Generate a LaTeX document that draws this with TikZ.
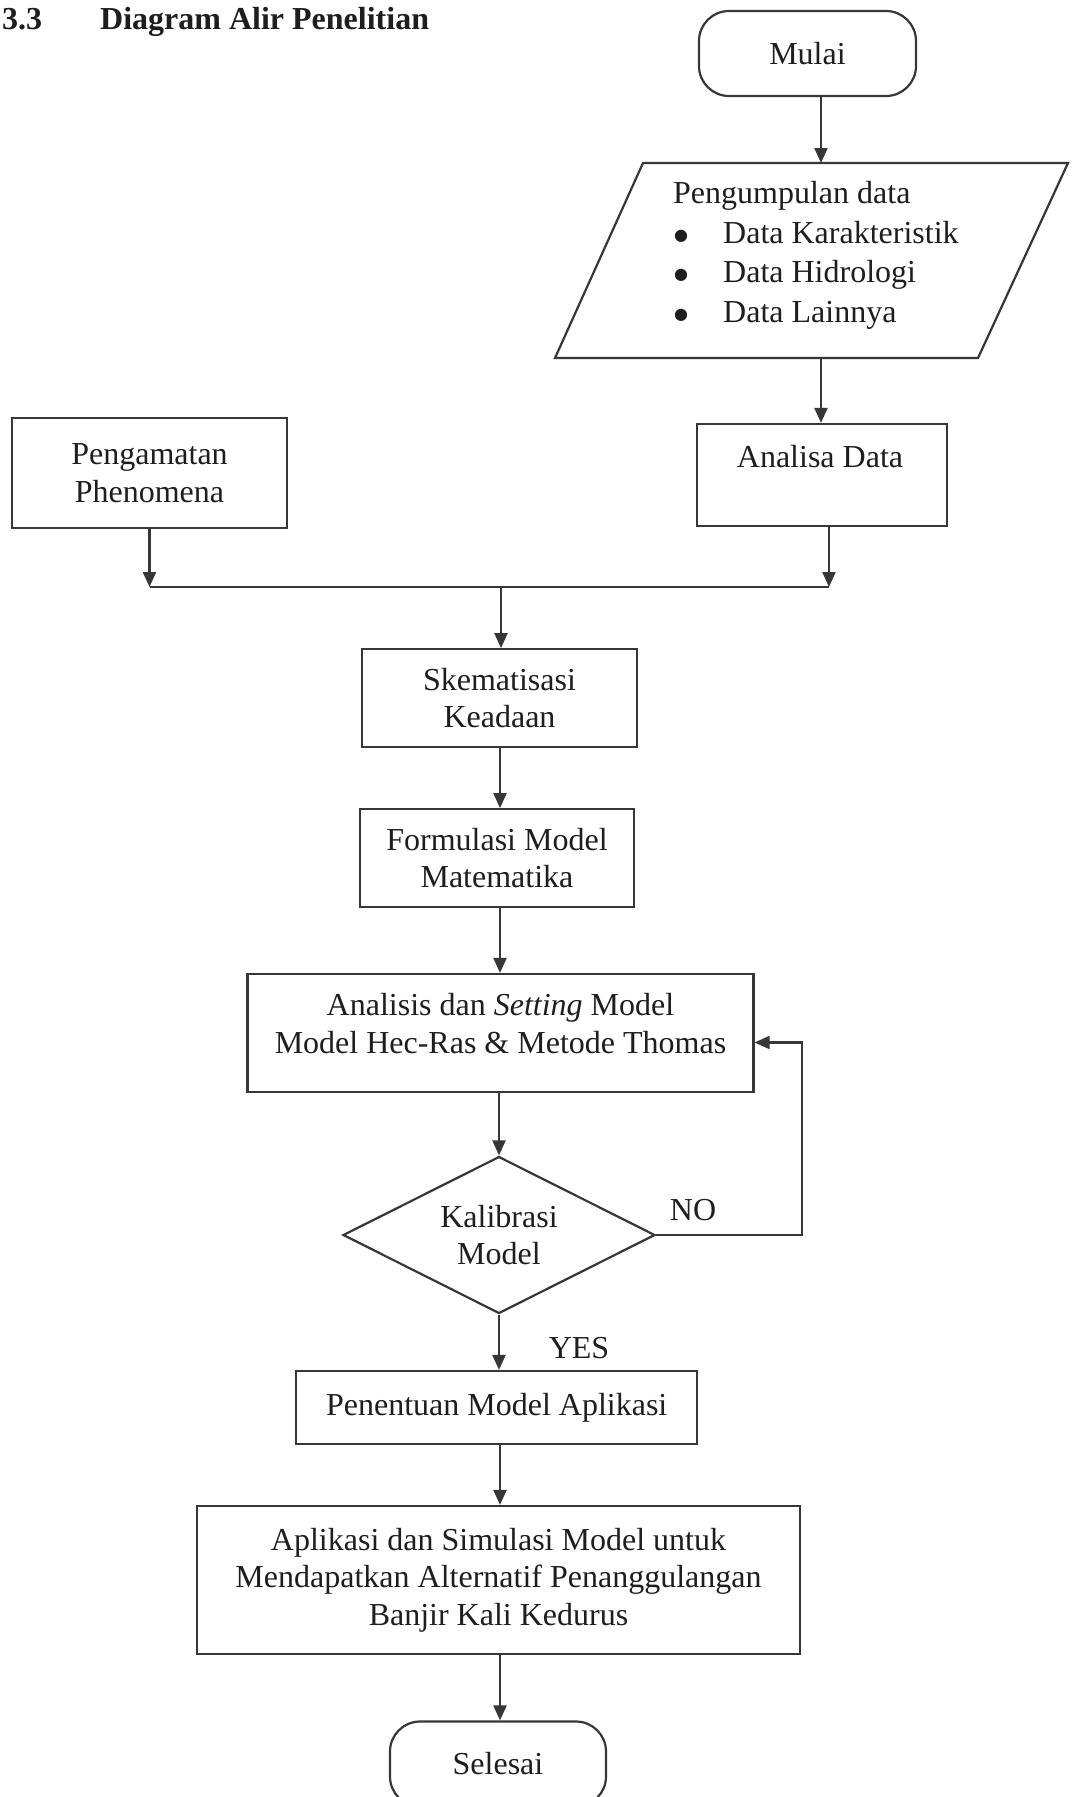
\documentclass[tikz,border=0pt]{standalone}
\usepackage{fontspec}
\setmainfont{Liberation Serif}
\newfontfamily\symfont{DejaVu Sans}
\usetikzlibrary{arrows.meta,shapes.geometric}
\definecolor{lnc}{RGB}{55,55,55}
\definecolor{txc}{RGB}{30,30,30}
\newcommand{\bigbul}{\hspace*{1pt}\makebox[49pt][l]{\raisebox{3pt}{\fontsize{16}{16}\selectfont\symfont ●}}}
\begin{document}
\begin{tikzpicture}[x=1pt,y=-1pt,
  every node/.style={text=txc, font=\fontsize{32}{37.5}\selectfont},
  box/.style={draw=lnc, line width=2.2pt, rectangle, inner sep=0pt, align=center},
  term/.style={box, rounded corners=30pt},
  arr/.style={draw=lnc, line width=2.2pt, -{Triangle[length=15pt,width=13pt]}},
  plain/.style={draw=lnc, line width=2.2pt},
  txt/.style={inner sep=0pt, align=center}]

\useasboundingbox[fill=white] (0,0) rectangle (1072,1797);

% title
\node[anchor=base west, inner sep=0pt, font=\fontsize{32}{38}\selectfont\bfseries] (secnum) at (2,29) {3.3};
\node[anchor=base west, inner sep=0pt, font=\fontsize{32}{38}\selectfont\bfseries] (title) at (100,29) {Diagram Alir Penelitian};

% start
\node[term, minimum width=217pt, minimum height=85pt] (mulai) at (807.5,53.5) {Mulai};

% data input (parallelogram)
\coordinate (pA) at (555,358);
\coordinate (pB) at (978,358);
\coordinate (pC) at (1068,163);
\coordinate (pD) at (643,163);
\draw[plain, line join=miter] (pA) -- (pB) -- (pC) -- (pD) -- cycle;
\coordinate (dtop) at (821,163);
\coordinate (dbot) at (821,358);
\node[anchor=west, inner sep=0pt, align=left, font=\fontsize{32}{39.5}\selectfont] (dtext) at (673,255.5)
  {Pengumpulan data\\
   \bigbul Data Karakteristik\\
   \bigbul Data Hidrologi\\
   \bigbul Data Lainnya};
\draw[arr] (mulai.south -| dtop) -- (dtop);

% analisa data
\node[box, minimum width=250pt, minimum height=102pt] (ana) at (822,475) {};
\node[txt] (anat) at (820,457) {Analisa Data};
\draw[arr] (dbot) -- (dbot |- ana.north);

% pengamatan
\node[box, minimum width=275pt, minimum height=110pt] (peng) at (149.5,473) {Pengamatan\\Phenomena};

% junction
\coordinate (jl) at (149.5,587);
\coordinate (jr) at (829,587);
\coordinate (jc) at (501,587);
\coordinate (cx) at (500,0);

\node[box, minimum width=275pt, minimum height=97.5pt] (skem) at (499.5,698) {Skematisasi\\Keadaan};
\node[box, minimum width=274.5pt, minimum height=97.5pt] (form) at (497,858) {Formulasi Model\\Matematika};
\node[box, minimum width=506pt, minimum height=118pt] (anal) at (500.5,1033) {};
\node[txt] (analt) at (500.5,1023.5) {Analisis dan \textit{Setting} Model\\Model Hec-Ras \& Metode Thomas};
\node[draw=lnc, line width=2.2pt, diamond, aspect=2, minimum width=312pt, minimum height=157pt, inner sep=0pt, align=center] (kal) at (499,1235) {Kalibrasi\\Model};
\node[box, minimum width=401pt, minimum height=73pt] (pen) at (496.7,1407.5) {Penentuan Model Aplikasi};
\node[box, minimum width=603pt, minimum height=148pt] (apl) at (498.5,1580) {Aplikasi dan Simulasi Model untuk\\Mendapatkan Alternatif Penanggulangan\\Banjir Kali Kedurus};
\node[term, minimum width=216pt, minimum height=85pt] (sel) at (498,1764) {Selesai};

\node[txt] (no) at (693,1210) {NO};
\node[txt] (yes) at (579,1348) {YES};

% connectors
\draw[arr] (peng.south) -- (jl);
\draw[arr] (ana.south -| jr) -- (jr);
\draw[plain] (jl) -- (jr);
\draw[arr] (jc) -- (jc |- skem.north);
\draw[arr] (skem.south -| cx) -- (form.north -| cx);
\draw[arr] (form.south -| cx) -- (anal.north -| cx);
\draw[arr] (anal.south -| kal.north) -- (kal.north);
\coordinate (fb) at (802,1042.5);
\draw[arr] (kal.east) -| (fb) -- (fb -| anal.east);
\draw[arr] (kal.south) -- (kal.south |- pen.north);
\draw[arr] (pen.south -| cx) -- (apl.north -| cx);
\draw[arr] (apl.south -| cx) -- (sel.north -| cx);
\end{tikzpicture}
\end{document}
